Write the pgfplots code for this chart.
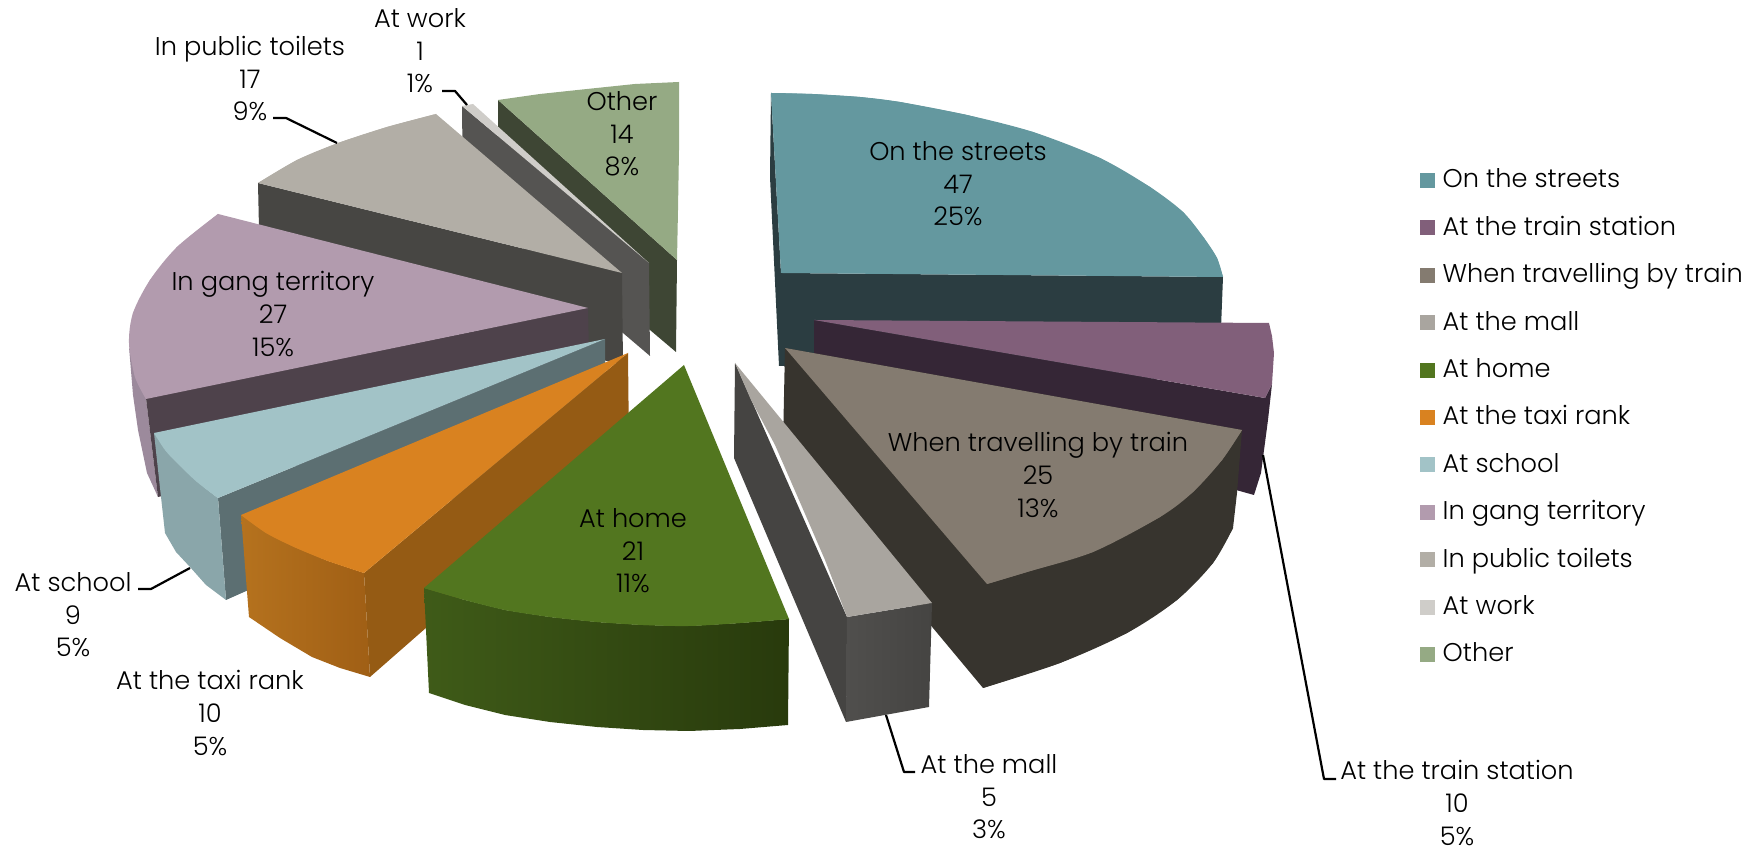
\documentclass[border=0pt]{standalone}
\usepackage{fontspec}
\setmainfont{Poppins Light}
\usepackage{pgfplots}
\pgfplotsset{compat=1.18}
\definecolor{cStreets}{HTML}{64989F}\definecolor{sStreets}{HTML}{2B3D41}
\definecolor{cStation}{HTML}{815F7A}\definecolor{sStation}{HTML}{352636}
\definecolor{cTrain}{HTML}{847B70}\definecolor{sTrain}{HTML}{37342E}
\definecolor{cMall}{HTML}{A9A59F}\definecolor{sMall}{HTML}{454442}\definecolor{wMall}{HTML}{504F4D}
\definecolor{cHome}{HTML}{52761F}\definecolor{wHomeA}{HTML}{3F5B18}\definecolor{wHomeB}{HTML}{283A0C}
\definecolor{cTaxi}{HTML}{D98220}\definecolor{sTaxi}{HTML}{955B14}\definecolor{wTaxiA}{HTML}{B5721E}\definecolor{wTaxiB}{HTML}{A05F15}
\definecolor{cSchool}{HTML}{A2C3C7}\definecolor{sSchool}{HTML}{5C6F72}\definecolor{wSchool}{HTML}{8AA6AA}
\definecolor{cGang}{HTML}{B29BAE}\definecolor{sGang}{HTML}{4E424B}\definecolor{wGang}{HTML}{9C8A9C}
\definecolor{cToilets}{HTML}{B2AEA6}\definecolor{sToilets}{HTML}{474643}
\definecolor{cWork}{HTML}{CFCDC9}\definecolor{sWork}{HTML}{555452}
\definecolor{cOther}{HTML}{95AA84}\definecolor{sOther}{HTML}{3E4634}
\pgfplotsset{P/.style={forget plot,draw=none,fill=#1},
 S/.style={forget plot,draw=none,fill=#1,smooth},
 G/.style 2 args={forget plot,draw=none,left color=#1,right color=#2},
 L/.style={forget plot,black,line width=0.22mm,line join=round}}
\newcommand\Lab[3]{\node[align=center,inner sep=0pt,font=\fontsize{7.3}{9.25}\selectfont] at (axis cs:#1,#2) {#3};}
\newcommand\Leg[3]{\addplot[P=#2] coordinates {(1420,#1-15)(1435,#1-15)(1435,#1)(1420,#1)} -- cycle;
 \node[anchor=base west,inner sep=0pt,font=\fontsize{7.3}{9.25}\selectfont] at (axis cs:1442,#1) {#3};}
\begin{document}
\begin{tikzpicture}
\useasboundingbox (0,0) rectangle (17.6cm,8.49cm);
\begin{axis}[at={(0,0)},anchor=south west,scale only axis,width=17.6cm,height=8.49cm,
 xmin=0,xmax=1760,ymin=0,ymax=849,y dir=reverse,hide axis,clip=false,no markers]
% On the streets
\addplot[P=sStreets] coordinates {(771,93)(781,273)(1223,277)(1219,380)(790,372)(784,366)(779,366)(770,177)} -- cycle;
\addplot[P=cStreets] coordinates {(771,93)(812,94)(860,97)(900,102)(967,115)(1033,132)(1100,158)(1150,187)(1183,212)(1204,238)(1217,258)(1223,277)(781,273)} -- cycle;
\addplot[S=cStreets] coordinates {(771,93)(812,94)(860,97)(900,102)(967,115)(1033,132)(1100,158)(1150,187)(1183,212)(1204,238)(1217,258)(1223,277)} -- cycle;
% At the train station
\addplot[P=sStation] coordinates {(814,320)(1265,398)(1272,384)(1268,420)(1261,473)(1254,495)(1200,480)(814,400)} -- cycle;
\addplot[P=cStation] coordinates {(814,320)(1269,323)(1272,336)(1274,353)(1272,384)(1265,398)} -- cycle;
% When travelling by train
\addplot[P=sTrain] coordinates {(785,348)(1242,430)(1237,493)(1233,528)(1213,563)(1177,600)(1127,633)(1060,663)(983,688)(933,628)(783,445)} -- cycle;
\addplot[S=sTrain] coordinates {(1233,528)(1213,563)(1177,600)(1127,633)(1060,663)(983,688)} -- cycle;
\addplot[P=cTrain] coordinates {(785,348)(1242,430)(1222,460)(1193,492)(1160,517)(1093,552)(1027,572)(987,584)} -- cycle;
\addplot[S=cTrain] coordinates {(1242,430)(1222,460)(1193,492)(1160,517)(1093,552)(1027,572)(987,584)} -- cycle;
% At the mall
\addplot[P=sMall] coordinates {(735,363)(847,617)(846,722)(734,458)} -- cycle;
\addplot[G={wMall}{sMall}] coordinates {(847,617)(932,603)(929,707)(846,722)} -- cycle;
\addplot[P=cMall] coordinates {(735,363)(932,603)(847,617)(825,560)(799,500)(775,445)(751,400)} -- cycle;
% Other
\addplot[P=sOther] coordinates {(498,100)(677,260)(676,352)(650,330)(498,192)} -- cycle;
\addplot[P=cOther] coordinates {(498,100)(540,94)(587,89)(635,84)(679,82)(679,150)(678,210)(677,260)} -- cycle;
% At work
\addplot[P=sWork] coordinates {(462,106)(649,263)(650,356)(623,333)(463,198)} -- cycle;
\addplot[P=cWork] coordinates {(462,106)(473,104)(649,263)} -- cycle;
% In public toilets
\addplot[P=sToilets] coordinates {(258,183)(622,273)(623,365)(260,275)} -- cycle;
\addplot[P=cToilets] coordinates {(258,183)(297,160)(338,143)(387,127)(436,114)(622,273)} -- cycle;
\addplot[S=cToilets] coordinates {(258,183)(297,160)(338,143)(387,127)(436,114)} -- cycle;
% In gang territory
\addplot[P=wGang] coordinates {(129,347)(146,398)(158,497)(147,473)(138,430)(133,395)} -- cycle;
\addplot[P=sGang] coordinates {(146,398)(588,308)(590,400)(158,497)} -- cycle;
\addplot[P=cGang] coordinates {(218,214)(588,308)(146,399)(135,377)(129,343)(133,313)(150,280)(177,247)} -- cycle;
\addplot[S=cGang] coordinates {(218,214)(177,247)(150,280)(133,313)(129,343)(135,377)(146,399)} -- cycle;
% At school
\addplot[P=sSchool] coordinates {(218,498)(605,339)(606,431)(226,600)} -- cycle;
\addplot[P=wSchool] coordinates {(154,433)(165,450)(177,463)(197,482)(218,498)(226,600)(206,585)(190,567)(176,552)(165,533)(161,497)} -- cycle;
\addplot[P=cSchool] coordinates {(154,433)(605,339)(218,498)(197,482)(177,463)(165,450)} -- cycle;
\addplot[S=cSchool] coordinates {(154,433)(165,450)(177,463)(197,482)(218,498)} -- cycle;
% At the taxi rank
\addplot[P=sTaxi] coordinates {(364,573)(628,353)(629,450)(370,677)} -- cycle;
\addplot[G={wTaxiA}{wTaxiB}] coordinates {(241,515)(266,533)(294,547)(328,561)(364,573)(370,677)(340,668)(312,657)(280,638)(249,617)} -- cycle;
\addplot[P=cTaxi] coordinates {(241,515)(628,353)(364,573)(328,561)(294,547)(266,533)} -- cycle;
\addplot[S=cTaxi] coordinates {(241,515)(266,533)(294,547)(328,561)(364,573)} -- cycle;
% At home
\addplot[G={wHomeA}{wHomeB}] coordinates {(424,588)(465,600)(505,610)(550,617)(597,622)(643,625)(689,626)(740,623)(789,619)(788,725)(740,729)(689,731)(643,730)(597,727)(550,722)(505,715)(465,705)(429,693)} -- cycle;
\addplot[P=cHome] coordinates {(684,365)(789,619)(740,623)(689,626)(643,625)(597,622)(550,617)(505,610)(465,600)(424,588)} -- cycle;
\addplot[S=cHome] coordinates {(789,619)(740,623)(689,626)(643,625)(597,622)(550,617)(505,610)(465,600)(424,588)} -- cycle;
% leader lines
\addplot[L] coordinates {(442,91)(455,91)(467,105)};
\addplot[L] coordinates {(273,118)(286,118)(337,143)};
\addplot[L] coordinates {(138,589)(151,589)(190,568)};
\addplot[L] coordinates {(886,715)(904,772)(915,772)};
\addplot[L] coordinates {(1263,455)(1324,779)(1336,779)};
% data labels
\Lab{958}{184}{On the streets\\47\\25\%}
\Lab{1038}{475}{When travelling by train\\25\\13\%}
\Lab{633}{551}{At home\\21\\11\%}
\Lab{273}{314}{In gang territory\\27\\15\%}
\Lab{622}{134}{Other\\14\\8\%}
\Lab{250}{79}{In public toilets\\17\\9\%}
\Lab{420}{51}{At work\\1\\1\%}
\Lab{73}{615}{At school\\9\\5\%}
\Lab{210}{713}{At the taxi rank\\10\\5\%}
\Lab{989}{797}{At the mall\\5\\3\%}
\Lab{1457}{803}{At the train station\\10\\5\%}
% legend
\Leg{188}{cStreets}{On the streets}
\Leg{235.4}{cStation}{At the train station}
\Leg{282.8}{cTrain}{When travelling by train}
\Leg{330.2}{cMall}{At the mall}
\Leg{377.6}{cHome}{At home}
\Leg{425}{cTaxi}{At the taxi rank}
\Leg{472.4}{cSchool}{At school}
\Leg{519.8}{cGang}{In gang territory}
\Leg{567.2}{cToilets}{In public toilets}
\Leg{614.6}{cWork}{At work}
\Leg{662}{cOther}{Other}
\end{axis}
\end{tikzpicture}
\end{document}
